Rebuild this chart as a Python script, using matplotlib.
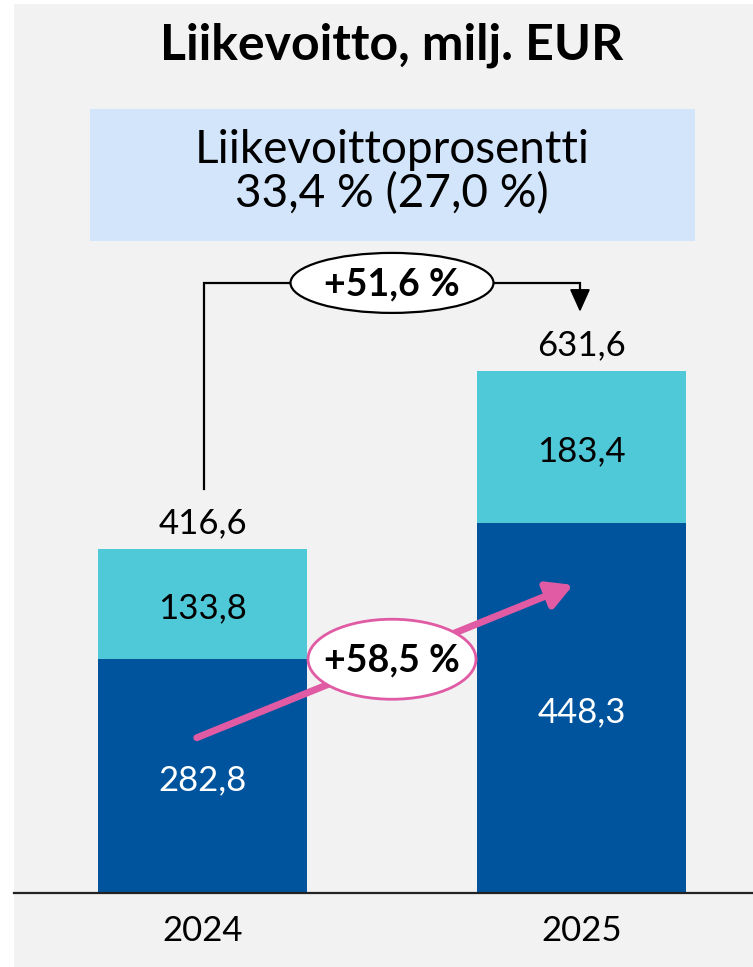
import matplotlib
matplotlib.use("Agg")
import matplotlib.pyplot as plt
from matplotlib.patches import Ellipse, Rectangle

years = ["2024", "2025"]
base = [282.8, 448.3]
top = [133.8, 183.4]
totals = [416.6, 631.6]
title = "Liikevoitto, milj. EUR"
box_lines = ["Liikevoittoprosentti", "33,4 % (27,0 %)"]
growth_total = "+51,6 %"
growth_base = "+58,5 %"

FONT = ["Lato", "DejaVu Sans"]
plt.rcParams['font.family'] = FONT

W, H = 753, 967
fig = plt.figure(figsize=(W / 100, H / 100), dpi=100)
fig.patch.set_facecolor("white")
fig.add_artist(Rectangle((14 / W, 0), 1, (H - 4) / H, transform=fig.transFigure,
                         facecolor="#f2f2f2", edgecolor="none", zorder=0))

px_per_unit = 0.826
base_y = 893
ax = fig.add_axes([14 / W, (H - base_y) / H, (W - 14) / W, (base_y - 4) / H])
ax.set_facecolor("none")
ax.set_ylim(0, (base_y - 4) / px_per_unit)
step = 379
ax.set_xlim(-(202.5 - 14) / step, 1 + (753 - 581.5) / step)
bw = 209 / step

dark = "#00549e"
light = "#4fc8d8"
pink = "#e05aa4"
x = [0, 1]
ax.bar(x, base, width=bw, color=dark, zorder=2)
ax.bar(x, top, bottom=base, width=bw, color=light, zorder=2)

def fmt(v):
    return f"{v:.1f}".replace(".", ",")

LS = 25
for i in range(2):
    ax.text(x[i], base[i] / 2 - 5, fmt(base[i]), ha="center", va="center",
            color="white", fontsize=LS, zorder=3)
    ax.text(x[i], base[i] + top[i] / 2 - 5, fmt(top[i]), ha="center",
            va="center", color="black", fontsize=LS, zorder=3)
    ax.text(x[i], totals[i] + 31, fmt(totals[i]), ha="center",
            va="center", color="black", fontsize=LS, zorder=3)

for s in ["top", "right", "left"]:
    ax.spines[s].set_visible(False)
ax.spines["bottom"].set_linewidth(1.6)
ax.spines["bottom"].set_color("#222222")
ax.set_yticks([])
ax.set_xticks(x)
ax.set_xticklabels(years, fontsize=LS)
ax.tick_params(axis="x", length=0, pad=16)

# black connector
lvl = totals[1] + 107
xr = x[1] - 0.004
x0 = x[0] + 0.004
ax.plot([x0, x0, xr, xr], [totals[0] + 73, lvl, lvl, lvl - 16],
        color="black", lw=1.6, zorder=3, solid_joinstyle="miter")
ax.annotate("", xy=(xr, totals[1] + 72), xytext=(xr, lvl - 14),
            arrowprops=dict(arrowstyle="-|>,head_length=1.0,head_width=0.45", color="black",
                            lw=1.4, mutation_scale=14, shrinkA=0, shrinkB=0), zorder=3)
e1 = Ellipse((0.5, lvl), 203 / step, 60 / px_per_unit, facecolor="white", edgecolor="black",
             lw=1.6, zorder=4)
ax.add_patch(e1)
ax.text(0.5, lvl - 2, growth_total, ha="center", va="center", fontsize=27, fontweight="bold",
        zorder=5)

# pink arrow
ax.annotate("", xy=(0.978, 373), xytext=(-0.015, 188),
            arrowprops=dict(arrowstyle="-|>,head_length=1.0,head_width=0.55", color=pink, lw=5,
                            mutation_scale=15, shrinkA=0, shrinkB=0), zorder=4)
e2 = Ellipse((0.5, 283), 168 / step, 80 / px_per_unit, facecolor="white", edgecolor=pink,
             lw=2, zorder=5)
ax.add_patch(e2)
ax.text(0.5, 281, growth_base, ha="center", va="center", fontsize=27, fontweight="bold",
        zorder=6)

# title and box
fig.text(392 / W, 1 - 45 / H, title, ha="center", va="center", fontsize=36, fontweight="bold")
fig.add_artist(Rectangle((90 / W, 1 - 241 / H), (695 - 90) / W, (241 - 109) / H,
                         transform=fig.transFigure, facecolor="#d3e5fb", edgecolor="none"))
fig.text(392 / W, 1 - 150 / H, box_lines[0], ha="center", va="center", fontsize=33)
fig.text(392 / W, 1 - 194 / H, box_lines[1], ha="center", va="center", fontsize=33)

fig.savefig("out.png", dpi=100, facecolor=fig.get_facecolor())
